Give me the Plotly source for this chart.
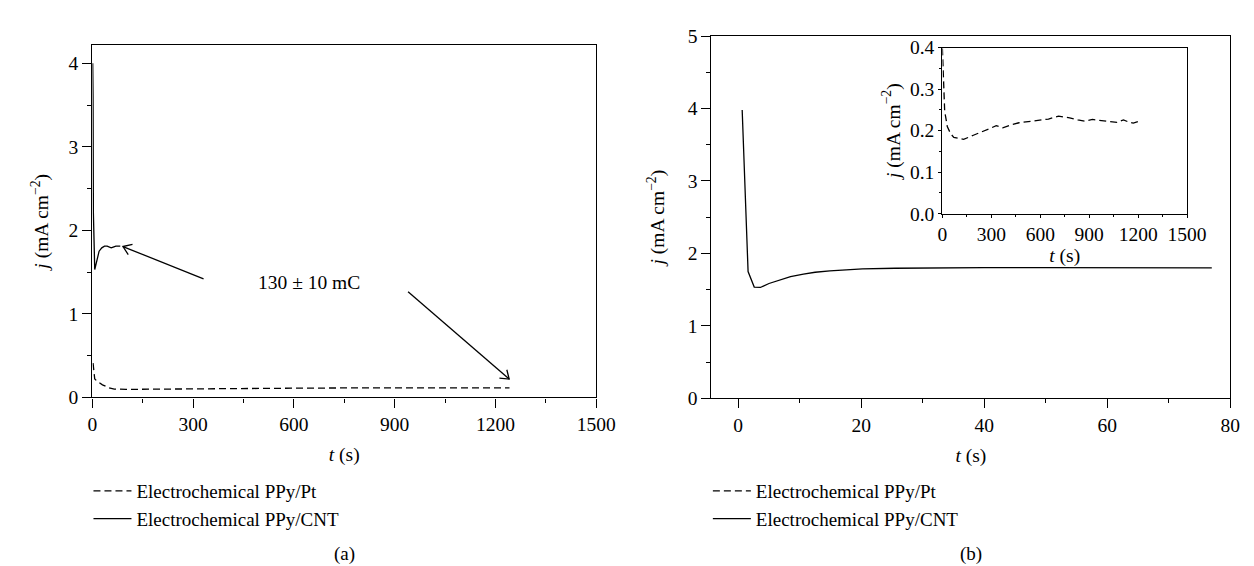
import math
import plotly.graph_objects as go

# ---------------- data ----------------
# Panel (a): long-time chronoamperometry
t_a_pt = [2, 4, 7, 15, 30, 50, 65, 100, 200, 300, 400, 500, 600, 700, 780, 850, 950, 1050, 1150, 1242]
j_a_pt = [0.41, 0.30, 0.22, 0.19, 0.15, 0.115, 0.10, 0.096, 0.097, 0.10, 0.104, 0.107, 0.11, 0.113,
          0.118, 0.115, 0.114, 0.114, 0.114, 0.115]
t_a_cnt = [1, 2, 3, 5, 7, 10, 15, 20, 28, 36, 44, 50, 56, 62, 70, 83]
j_a_cnt = [4.0, 3.6, 2.2, 1.6, 1.53, 1.58, 1.68, 1.75, 1.79, 1.81, 1.81, 1.795, 1.79, 1.80, 1.81, 1.81]

# Panel (b): PPy/CNT, first 80 s
t_b_cnt = [0.64, 1.6, 2.6, 3.6, 5.0, 6.9, 8.5, 10.6, 12.5, 14.9, 17.5, 20.2, 25.5, 30, 40, 50, 60, 70, 77]
j_b_cnt = [3.98, 1.75, 1.535, 1.53, 1.585, 1.64, 1.68, 1.715, 1.74, 1.76, 1.775, 1.786, 1.795, 1.80,
           1.805, 1.805, 1.80, 1.80, 1.80]

# Inset of (b): PPy/Pt
t_in_pt = [0, 5, 14, 30, 50, 70, 100, 130, 190, 250, 290, 330, 370, 420, 470, 550, 650, 712, 780,
           830, 871, 920, 970, 1020, 1070, 1110, 1140, 1170, 1200]
j_in_pt = [0.398, 0.33, 0.247, 0.21, 0.193, 0.184, 0.182, 0.179, 0.189, 0.198, 0.205, 0.212, 0.207,
           0.214, 0.219, 0.223, 0.228, 0.235, 0.231, 0.226, 0.223, 0.227, 0.224, 0.222, 0.220, 0.226,
           0.221, 0.218, 0.222]

series_names = ["Electrochemical PPy/Pt", "Electrochemical PPy/CNT"]
annot_text = "130 ± 10 mC"
# arrows (tail t, tail j, head t, head j) in panel (a) data units
arrows_a = [(331, 1.418, 91, 1.806), (940, 1.264, 1241, 0.219)]

xticks_a = [0, 300, 600, 900, 1200, 1500]
xticks_b = [0, 20, 40, 60, 80]
xticks_in = [0, 300, 600, 900, 1200, 1500]

# ---------------- layout geometry ----------------
W, H = 1254, 566
FONT = "Liberation Serif"

def px_x(p):
    return p / W

def px_y(p):
    return 1 - p / H

dom_a_x = [px_x(81), px_x(595)]
dom_a_y = [px_y(394), px_y(28.3)]
dom_b_x = [px_x(712.7), px_x(1242)]
dom_b_y = [px_y(395), px_y(18.7)]
dom_i_x = [px_x(948.3), px_x(1198)]
dom_i_y = [px_y(203.3), px_y(30.7)]

rng_a_x = [0, 1500]
rng_a_y = [0, 4.2156]
rng_b_x = [-4.35, 80]
rng_b_y = [0, 5]
rng_i_x = [0, 1500]
rng_i_y = [0, 0.4]

LW = 1.3
fig = go.Figure()

fig.add_trace(go.Scatter(x=t_a_pt, y=j_a_pt, mode="lines", name=series_names[0],
                         line=dict(color="black", width=LW, dash="7px,4px"),
                         xaxis="x", yaxis="y", legend="legend"))
fig.add_trace(go.Scatter(x=t_a_cnt, y=j_a_cnt, mode="lines", name=series_names[1],
                         line=dict(color="black", width=LW),
                         xaxis="x", yaxis="y", legend="legend"))
fig.add_trace(go.Scatter(x=t_in_pt, y=j_in_pt, mode="lines", name=series_names[0],
                         line=dict(color="black", width=LW, dash="7px,4px"),
                         xaxis="x3", yaxis="y3", legend="legend2"))
fig.add_trace(go.Scatter(x=t_b_cnt, y=j_b_cnt, mode="lines", name=series_names[1],
                         line=dict(color="black", width=LW),
                         xaxis="x2", yaxis="y2", legend="legend2"))

# ---------------- arrows (open V heads) as line traces ----------------
sx = (dom_a_x[1] - dom_a_x[0]) * W / (rng_a_x[1] - rng_a_x[0])   # px per data unit
sy = (dom_a_y[1] - dom_a_y[0]) * H / (rng_a_y[1] - rng_a_y[0])
for (tx, ty, hx, hy) in arrows_a:
    dxp, dyp = (tx - hx) * sx, -(ty - hy) * sy      # screen px, y down
    n = math.hypot(dxp, dyp)
    ux, uy = dxp / n, dyp / n
    xs, ys = [], []
    for s in (1, -1):
        a = math.radians(35) * s
        wx = ux * math.cos(a) - uy * math.sin(a)
        wy = ux * math.sin(a) + uy * math.cos(a)
        xs.append(hx + wx * 10 / sx)
        ys.append(hy - wy * 10 / sy)
    fig.add_trace(go.Scatter(x=[xs[0], hx, xs[1], None, tx, hx],
                             y=[ys[0], hy, ys[1], None, ty, hy],
                             mode="lines", line=dict(color="black", width=LW),
                             showlegend=False, hoverinfo="skip", xaxis="x", yaxis="y"))

tfont = dict(family=FONT, size=19.5, color="black")
lfont = dict(family=FONT, size=19, color="black")

def axis(dom, rng, tickvals=None, dtick=None, minor_dtick=None, anchor=None, title=None,
         ticklen=9, mticklen=4, standoff=None, fmt=None):
    d = dict(domain=dom, range=rng, showline=True, linecolor="black", linewidth=LW, mirror=True,
             ticks="outside", ticklen=ticklen, tickwidth=LW, tickcolor="black",
             showgrid=False, zeroline=False, tickfont=tfont, anchor=anchor,
             minor=dict(ticks="outside", ticklen=mticklen, tickwidth=LW, tickcolor="black",
                        dtick=minor_dtick, tick0=0, showgrid=False))
    if tickvals is not None:
        d["tickvals"] = tickvals
    if dtick is not None:
        d["dtick"] = dtick
        d["tick0"] = 0
    if fmt:
        d["tickformat"] = fmt
    if title:
        d["title"] = dict(text=title, font=tfont)
        if standoff is not None:
            d["title"]["standoff"] = standoff
    return d

ytitle = "<i>j</i> (mA cm<sup>−2</sup>)"
xtitle = "<i>t</i> (s)"

fig.update_layout(
    width=W, height=H, margin=dict(l=0, r=0, t=0, b=0),
    paper_bgcolor="white", plot_bgcolor="rgba(0,0,0,0)",
    font=tfont,
    xaxis=axis(dom_a_x, rng_a_x, tickvals=xticks_a, minor_dtick=150, anchor="y", title=xtitle, standoff=13),
    yaxis=axis(dom_a_y, rng_a_y, dtick=1, minor_dtick=0.5, anchor="x", title=ytitle, standoff=14),
    xaxis2=axis(dom_b_x, rng_b_x, tickvals=xticks_b, minor_dtick=10, anchor="y2", title=xtitle, standoff=13),
    yaxis2=axis(dom_b_y, rng_b_y, dtick=1, minor_dtick=0.5, anchor="x2", title=ytitle, standoff=17),
    xaxis3=axis(dom_i_x, rng_i_x, tickvals=xticks_in, minor_dtick=150, anchor="y3", title=xtitle,
                ticklen=3, mticklen=2, standoff=0),
    yaxis3=axis(dom_i_y, rng_i_y, dtick=0.1, minor_dtick=0.05, anchor="x3", title=ytitle,
                ticklen=3, mticklen=2, standoff=4, fmt=".1f"),
    legend=dict(x=px_x(77), y=px_y(471.5), xanchor="left", yanchor="top", font=lfont,
                bgcolor="rgba(0,0,0,0)", tracegroupgap=0, itemwidth=38),
    legend2=dict(x=px_x(709), y=px_y(471.5), xanchor="left", yanchor="top", font=lfont,
                 bgcolor="rgba(0,0,0,0)", tracegroupgap=0, itemwidth=38),
    showlegend=True,
)

anns = [
    dict(x=645, y=1.37, xref="x", yref="y", text=annot_text, showarrow=False,
         font=tfont, xanchor="center", yanchor="middle"),
    dict(x=(dom_a_x[0] + dom_a_x[1]) / 2, y=px_y(557), xref="paper", yref="paper",
         text="(a)", showarrow=False, font=lfont, xanchor="center", yanchor="middle"),
    dict(x=(dom_b_x[0] + dom_b_x[1]) / 2, y=px_y(557), xref="paper", yref="paper",
         text="(b)", showarrow=False, font=lfont, xanchor="center", yanchor="middle"),
]
fig.update_layout(annotations=anns)

fig.write_html("out.html")
